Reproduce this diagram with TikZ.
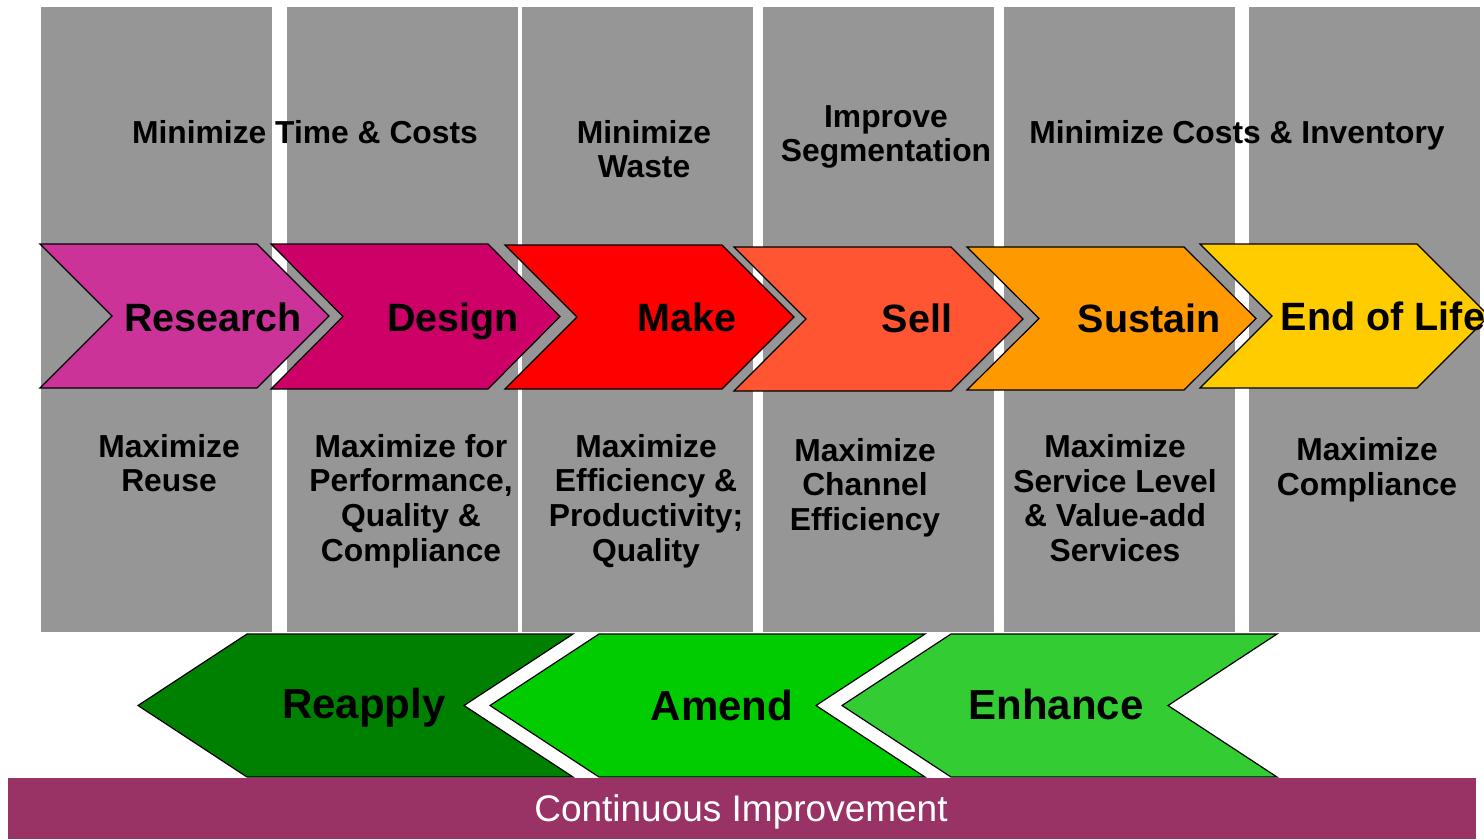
\documentclass[tikz,border=0pt]{standalone}
\usepackage{fontspec}
\setmainfont{Liberation Sans}
\definecolor{colgray}{HTML}{969696}
\definecolor{cResearch}{HTML}{CC3399}
\definecolor{cDesign}{HTML}{CC0066}
\definecolor{cMake}{HTML}{FF0000}
\definecolor{cSell}{HTML}{FF5533}
\definecolor{cSustain}{HTML}{FF9900}
\definecolor{cEoL}{HTML}{FFCC00}
\definecolor{cReapply}{HTML}{008000}
\definecolor{cAmend}{HTML}{00CC00}
\definecolor{cEnhance}{HTML}{33CC33}
\definecolor{cBar}{HTML}{993366}
\begin{document}
\begin{tikzpicture}[x=1pt,y=-1pt,
  colbox/.style={fill=colgray, draw=none},
  chev/.style={draw=black, line width=1.2pt, line join=miter},
  desc/.style={font=\fontsize{31.8}{34.7}\selectfont\bfseries, align=center, inner sep=0pt, text=black},
  chlab/.style={font=\fontsize{39.5}{44}\selectfont\bfseries, inner sep=0pt, text=black},
  lowlab/.style={font=\fontsize{42}{48}\selectfont\bfseries, inner sep=0pt, text=black},
  barlab/.style={font=\fontsize{37}{42}\selectfont, inner sep=0pt, text=white}]
\useasboundingbox (0,0) rectangle (1484,839);
% grey columns
\foreach \a/\b in {41/272, 287/518, 522/753, 763/994, 1004/1235, 1249/1480}
  \fill[colbox] (\a,7) rectangle (\b,632);
% top chevrons (pointing right)
\foreach \x/\t/\b/\c in {40/244/388/cResearch, 271/244/389/cDesign, 505/245/389/cMake, 734/247/391/cSell, 967/247/390/cSustain, 1200/244/388/cEoL}
  \draw[chev, fill=\c] (\x,\t) -- ({\x+217},\t) -- ({\x+289},{(\t+\b)/2}) -- ({\x+217},\b) -- (\x,\b) -- ({\x+72},{(\t+\b)/2}) -- cycle;
% bottom chevrons (pointing left)
\foreach \x/\c in {138/cReapply, 490/cAmend, 842/cEnhance}
  \draw[chev, fill=\c] (\x,705.5) -- ({\x+109},634) -- ({\x+435},634) -- ({\x+326},705.5) -- ({\x+435},777) -- ({\x+109},777) -- cycle;
% bar
\fill[cBar] (8,778) rectangle (1476,839);
\node[barlab] (bar) at (741,812) {Continuous Improvement};
% chevron labels
\node[chlab] (research) at (213,317) {Research};
\node[chlab] (design) at (453,321) {Design};
\node[chlab] (make) at (687,317) {Make};
\node[chlab] (sell) at (917,318) {Sell};
\node[chlab] (sustain) at (1149,318) {Sustain};
\node[chlab] (eol) at (1383,316) {End of Life};
\node[lowlab] (reapply) at (364,708) {Reapply};
\node[lowlab] (amend) at (722,705) {Amend};
\node[lowlab] (enhance) at (1056,704) {Enhance};
% upper descriptions
\node[desc] (t1) at (305,132) {Minimize Time \& Costs};
\node[desc] (t2) at (644,149) {Minimize\\Waste};
\node[desc] (t3) at (886,137) {Improve\\Segmentation};
\node[desc] (t4) at (1237,135) {Minimize Costs \& Inventory};
% lower descriptions
\node[desc] (b1) at (169,463) {Maximize\\Reuse};
\node[desc] (b2) at (411,501) {Maximize for\\Performance,\\Quality \&\\Compliance};
\node[desc] (b3) at (646,501) {Maximize\\Efficiency \&\\Productivity;\\Quality};
\node[desc] (b4) at (865,487.5) {Maximize\\Channel\\Efficiency};
\node[desc] (b5) at (1115,498) {Maximize\\Service Level\\\& Value-add\\Services};
\node[desc] (b6) at (1367,470) {Maximize\\Compliance};
\end{tikzpicture}
\end{document}
